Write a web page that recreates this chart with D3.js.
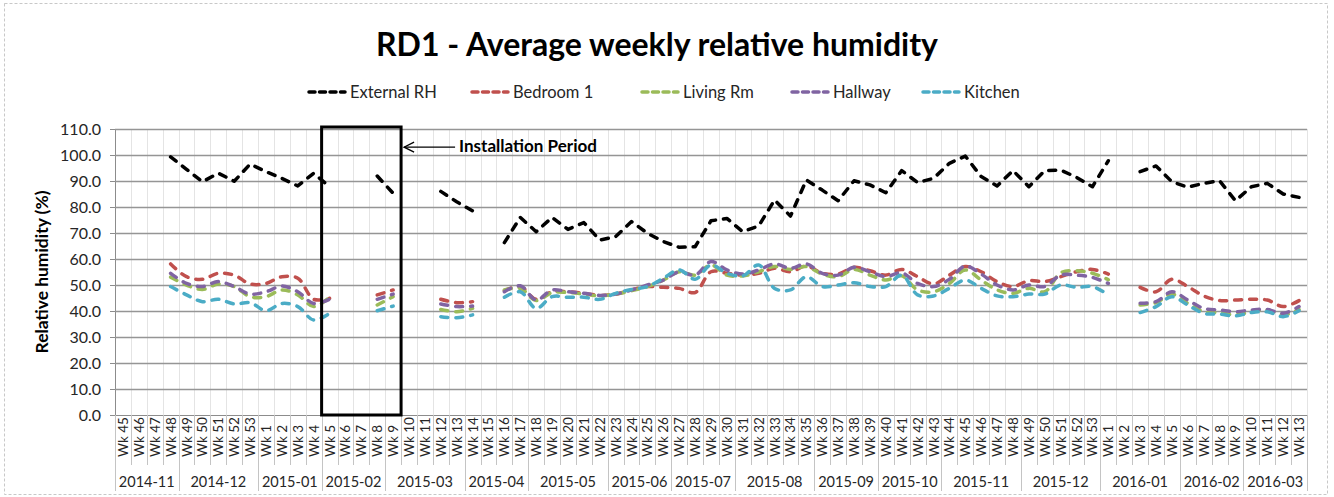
<!DOCTYPE html>
<html><head><meta charset="utf-8">
<script src="https://cdn.jsdelivr.net/npm/d3@7"></script>
<style>
html,body{margin:0;padding:0;background:#fff;}
svg{display:block;font-family:Lato,"Open Sans",sans-serif;}
</style></head>
<body>
<svg id="c" width="1334" height="497"></svg>
<script>
// ---------- DATA ----------
const weeks = ["Wk 45","Wk 46","Wk 47","Wk 48",
 "Wk 49","Wk 50","Wk 51","Wk 52","Wk 53",
 "Wk 1","Wk 2","Wk 3","Wk 4",
 "Wk 5","Wk 6","Wk 7","Wk 8",
 "Wk 9","Wk 10","Wk 11","Wk 12","Wk 13",
 "Wk 14","Wk 15","Wk 16","Wk 17",
 "Wk 18","Wk 19","Wk 20","Wk 21","Wk 22",
 "Wk 23","Wk 24","Wk 25","Wk 26",
 "Wk 27","Wk 28","Wk 29","Wk 30",
 "Wk 31","Wk 32","Wk 33","Wk 34","Wk 35",
 "Wk 36","Wk 37","Wk 38","Wk 39",
 "Wk 40","Wk 41","Wk 42","Wk 43",
 "Wk 44","Wk 45","Wk 46","Wk 47","Wk 48",
 "Wk 49","Wk 50","Wk 51","Wk 52","Wk 53",
 "Wk 1","Wk 2","Wk 3","Wk 4","Wk 5",
 "Wk 6","Wk 7","Wk 8","Wk 9",
 "Wk 10","Wk 11","Wk 12","Wk 13"];
const months = ["2014-11","2014-12","2015-01","2015-02","2015-03","2015-04","2015-05","2015-06","2015-07","2015-08","2015-09","2015-10","2015-11","2015-12","2016-01","2016-02","2016-03"];
const monthWeekCounts = [4,5,4,4,5,4,5,4,4,5,4,4,5,5,5,4,4];
const yTicks = [0,10,20,30,40,50,60,70,80,90,100,110];
const seriesNames = ["External RH","Bedroom 1","Living Rm","Hallway","Kitchen"];

const externalRH = [null,null,null,99.3,94.5,89.7,93.0,89.9,96.5,93.6,91.0,88.1,93.0,87.8,null,null,91.9,85.3,null,null,86.0,82.0,78.5,null,
 66.3,76.0,70.5,76.0,71.4,74.0,67.3,68.6,74.4,69.9,66.7,64.5,64.7,74.7,75.6,70.5,72.7,82.7,76.5,90.4,86.5,82.4,90.1,88.5,85.5,
 94.0,89.4,91.0,96.8,99.6,91.7,88.1,94.0,87.8,94.0,94.2,91.4,87.8,97.8,null,93.6,95.8,89.7,87.6,89.1,90.1,82.4,87.8,89.1,85.0,83.7];
const bedroom1 = [null,null,null,58.1,53.2,52.2,54.5,53.8,50.4,50.6,53.2,52.6,44.5,44.9,null,null,46.2,48.1,null,null,44.5,43.2,43.6,null,
 47.8,49.4,44.5,47.4,47.4,46.8,46.0,46.5,48.1,49.4,49.1,48.7,47.1,55.1,54.5,53.8,54.5,56.4,55.1,57.3,54.5,54.2,56.8,55.5,53.8,
 56.0,53.2,50.4,53.8,57.1,55.1,51.3,49.4,51.7,51.3,53.2,55.1,56.0,54.2,null,49.1,47.4,52.2,49.4,45.8,44.0,44.2,44.5,44.2,41.7,44.0];
const livingRm = [null,null,null,53.0,50.0,48.3,50.4,49.4,45.5,45.5,48.1,46.2,41.7,45.3,null,null,42.3,45.5,null,null,40.6,39.7,41.0,null,
 48.1,48.7,44.0,47.1,47.1,46.5,45.8,46.5,47.8,49.4,51.9,55.1,53.8,57.7,53.8,53.5,55.1,57.1,56.0,57.1,54.2,53.2,56.0,53.8,51.9,
 53.5,48.1,47.4,50.6,55.8,51.9,48.1,46.8,48.7,47.4,54.7,55.5,54.5,52.0,null,42.3,43.2,46.5,42.9,39.7,39.4,38.5,39.7,40.4,38.5,40.6];
const hallway = [null,null,null,54.5,50.6,49.4,51.3,49.4,46.5,47.4,49.6,47.4,42.9,44.5,null,null,44.5,46.5,null,null,42.7,41.7,41.9,null,
 47.4,49.7,44.2,48.1,47.4,46.8,46.0,46.5,48.1,50.0,51.9,55.1,53.8,59.0,55.8,54.2,55.8,58.1,56.4,58.1,54.5,53.8,56.8,55.1,53.2,
 54.7,50.6,49.4,52.2,57.3,54.2,50.0,48.1,50.0,49.4,53.8,53.8,52.9,50.6,null,43.0,43.6,47.4,44.2,41.0,40.4,39.7,40.4,40.6,39.1,41.7];
const kitchen = [null,null,null,49.4,46.2,43.6,44.5,42.7,43.2,40.1,42.9,41.7,36.5,39.1,null,null,40.1,41.9,null,null,37.8,37.4,38.5,null,
 45.3,47.4,41.0,45.5,45.3,45.3,44.5,46.8,48.3,49.4,52.6,55.8,52.2,57.7,54.5,53.5,57.7,48.7,48.1,53.2,49.4,50.0,50.9,49.4,49.4,
 53.8,46.2,45.8,48.7,51.9,48.7,45.8,45.5,46.5,46.5,50.0,49.1,49.4,46.2,null,39.4,41.7,45.5,42.3,39.1,38.8,38.1,39.4,39.7,37.8,40.1];
const installStart = 13, installEnd = 17; // Wk 5 .. Wk 9 (2015)

// ---------- STYLE / LAYOUT ----------
const colors = ["#000000","#C0504D","#9BBB59","#8064A2","#4BACC6"];
const seriesData = [externalRH, bedroom1, livingRm, hallway, kitchen];
const plot = {left:115, right:1307, top:129, bottom:415};
const legendX = [307,470,640,790,921];

const svg = d3.select("#c");
const x = d3.scaleBand().domain(d3.range(weeks.length)).range([plot.left, plot.right]).padding(0);
const y = d3.scaleLinear().domain([0,110]).range([plot.bottom, plot.top]);

function fit(sel, target){
  const n = sel.node(); const fs = parseFloat(sel.attr("font-size"));
  const w = n.getComputedTextLength(); if (w>0) sel.attr("font-size", (fs*target/w).toFixed(2));
}

// outer border
svg.append("rect").attr("x",4.5).attr("y",3.5).attr("width",1323).attr("height",491)
  .attr("fill","none").attr("stroke","#c8c8c8").attr("stroke-dasharray","3,2");

// vertical minor gridlines
svg.append("g").selectAll("line").data(d3.range(1, weeks.length)).join("line")
  .attr("x1", i=>Math.round(x(i))+0.5).attr("x2", i=>Math.round(x(i))+0.5)
  .attr("y1", plot.top).attr("y2", plot.bottom).attr("stroke","#e4e4e4").attr("stroke-width",1);
svg.append("line").attr("x1",plot.right+0.5).attr("x2",plot.right+0.5).attr("y1",plot.top).attr("y2",plot.bottom)
  .attr("stroke","#e4e4e4");

// y axis + horizontal major gridlines
const yAxis = d3.axisLeft(y).tickValues(yTicks).tickFormat(d3.format(".1f")).tickSize(5).tickPadding(9);
const gy = svg.append("g").attr("transform",`translate(${plot.left},0)`).call(yAxis);
gy.select(".domain").attr("stroke","#8c8c8c");
gy.selectAll(".tick line").attr("stroke","#8c8c8c");
gy.selectAll(".tick text").attr("font-size",16).attr("fill","#262626").attr("font-family","Lato, sans-serif");
gy.selectAll(".tick").filter(d=>d>0).append("line")
  .attr("x1",0).attr("x2",plot.right-plot.left).attr("stroke","#959595").attr("stroke-width",1.3);

// x axis: week labels + separators
const gx = svg.append("g");
gx.append("line").attr("x1",plot.left).attr("x2",plot.right).attr("y1",plot.bottom+0.5).attr("y2",plot.bottom+0.5)
  .attr("stroke","#8c8c8c");
gx.selectAll("line.wsep").data(d3.range(0, weeks.length+1)).join("line").attr("class","wsep")
  .attr("x1", i=> (i<weeks.length? Math.round(x(i)) : plot.right)+0.5)
  .attr("x2", i=> (i<weeks.length? Math.round(x(i)) : plot.right)+0.5)
  .attr("y1", plot.bottom).attr("y2", plot.bottom+50).attr("stroke","#c4c4c4");
gx.selectAll("text.wk").data(weeks).join("text").attr("class","wk")
  .attr("transform",(d,i)=>`translate(${x(i)+x.bandwidth()/2+5},${plot.bottom+42}) rotate(-90)`)
  .attr("font-size",13.5).attr("fill","#262626").text(d=>d);

// month groups
let acc = 0;
const monthStarts = monthWeekCounts.map(c=>{const s=acc; acc+=c; return s;});
const mg = svg.append("g");
mg.selectAll("line").data(monthStarts.concat([weeks.length])).join("line")
  .attr("x1", s=> (s<weeks.length? Math.round(x(s)) : plot.right)+0.5)
  .attr("x2", s=> (s<weeks.length? Math.round(x(s)) : plot.right)+0.5)
  .attr("y1", plot.bottom).attr("y2", plot.bottom+76).attr("stroke","#c4c4c4");
mg.selectAll("text").data(months).join("text")
  .attr("x",(d,k)=> x(monthStarts[k]) + x.bandwidth()*monthWeekCounts[k]/2)
  .attr("y", plot.bottom+72).attr("text-anchor","middle").attr("font-size",14.5).attr("fill","#262626").text(d=>d);

// y title
const yt = svg.append("text").attr("transform",`translate(48,${(plot.top+plot.bottom)/2}) rotate(-90)`)
  .attr("text-anchor","middle").attr("font-weight","bold").attr("font-size",16).attr("fill","#000")
  .text("Relative humidity (%)");
fit(yt,163);

// title
const tt = svg.append("text").attr("x",657).attr("y",56).attr("text-anchor","middle")
  .attr("font-weight","bold").attr("font-size",26).attr("fill","#000")
  .text("RD1 - Average weekly relative humidity");
fit(tt,562);

// series lines
const dash = "7,8";
seriesData.forEach((vals,k)=>{
  const line = d3.line()
    .defined(d=>d!=null)
    .x((d,i)=>x(i)+x.bandwidth()/2)
    .y(d=>y(d))
    .curve(k===0 ? d3.curveLinear : d3.curveCatmullRom.alpha(0.5));
  svg.append("path").datum(vals).attr("d",line).attr("fill","none")
    .attr("stroke",colors[k]).attr("stroke-width",3.5).attr("stroke-dasharray",dash)
    .attr("stroke-linecap","round").attr("stroke-linejoin","round");
});

// legend
const lg = svg.append("g");
seriesNames.forEach((n,k)=>{
  const lx = legendX[k], ly = 92;
  lg.append("line").attr("x1",lx+2).attr("x2",lx+38).attr("y1",ly).attr("y2",ly)
    .attr("stroke",colors[k]).attr("stroke-width",3.5).attr("stroke-dasharray","6,4.5").attr("stroke-linecap","round");
  lg.append("text").attr("x",lx+43).attr("y",ly+6).attr("font-size",16.5).attr("fill","#262626").text(n);
});

// installation period annotation
const bx0 = x(installStart), bx1 = x(installEnd)+x.bandwidth();
svg.append("rect").attr("x",bx0).attr("y",plot.top-2).attr("width",bx1-bx0).attr("height",plot.bottom-plot.top+2)
  .attr("fill","none").attr("stroke","#000").attr("stroke-width",3);
const ay = y(103);
svg.append("line").attr("x1",bx1+3).attr("x2",bx1+54).attr("y1",ay).attr("y2",ay).attr("stroke","#000").attr("stroke-width",1.3);
svg.append("path").attr("d",`M${bx1+13},${ay-5}L${bx1+3},${ay}L${bx1+13},${ay+5}`).attr("fill","none").attr("stroke","#000").attr("stroke-width",1.3);
const at = svg.append("text").attr("x",bx1+58).attr("y",ay+5).attr("font-weight","bold").attr("font-size",14)
  .attr("fill","#000").text("Installation Period");
fit(at,138);
</script>
</body></html>
